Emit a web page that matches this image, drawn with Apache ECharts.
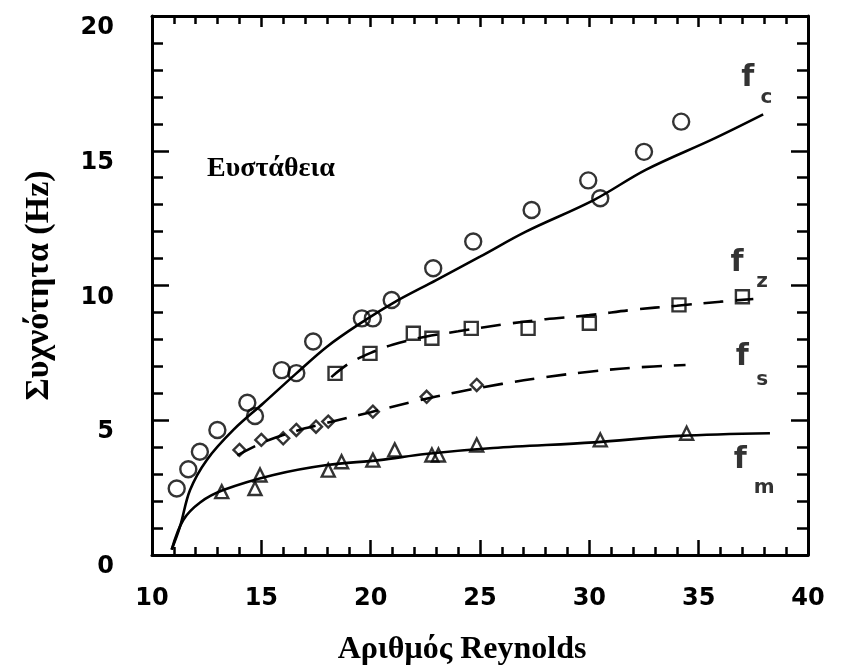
<!DOCTYPE html>
<html><head><meta charset="utf-8">
<script src="https://cdn.jsdelivr.net/npm/echarts/dist/echarts.min.js"></script>
<style>html,body{margin:0;padding:0;background:#fff}#c{width:843px;height:671px}</style>
</head><body><div id="c"></div>
<script>
// Axis ticks
const xTicks = [10, 15, 20, 25, 30, 35, 40];
const yTicks = [0, 5, 10, 15, 20];

// Measured points [Reynolds, Hz]
const fcPoints = [[11.13,2.47],[11.66,3.18],[12.19,3.83],[12.99,4.64],[14.36,5.65],[14.71,5.16],[15.93,6.86],[16.6,6.75],[17.37,7.92],[19.6,8.78],[20.1,8.78],[20.96,9.46],[22.86,10.64],[24.69,11.63],[27.36,12.8],[29.95,13.9],[30.5,13.24],[32.5,14.96],[34.2,16.08]];
const fzPoints = [[18.37,6.74],[19.97,7.48],[21.95,8.23],[22.8,8.04],[24.6,8.41],[27.2,8.41],[30.0,8.6],[34.1,9.28],[37.0,9.58]];
const fsPoints = [[14.0,3.9],[15.0,4.27],[16.0,4.33],[16.6,4.64],[17.5,4.76],[18.06,4.95],[20.1,5.32],[22.56,5.87],[24.85,6.31]];
const fmPoints = [[13.19,2.35],[14.71,2.47],[14.94,2.97],[18.06,3.15],[18.67,3.46],[20.1,3.52],[21.1,3.9],[22.8,3.71],[23.1,3.71],[24.85,4.08],[30.5,4.27],[34.45,4.52]];

// Fitted curves
const fcCurve = [[10.9,0.2],[11.28,1.05],[11.74,2.41],[12.5,3.52],[13.72,4.64],[15.09,5.63],[16.6,6.74],[18.0,7.73],[19.4,8.53],[21.0,9.34],[23.0,10.2],[25.0,11.07],[27.1,12.0],[30.2,13.17],[32.6,14.3],[35.7,15.45],[37.95,16.35]];
const fzCurve = [[18.2,6.6],[19.0,7.1],[20.0,7.5],[21.0,7.8],[22.5,8.1],[24.0,8.3],[26.0,8.55],[28.0,8.75],[30.0,8.9],[32.0,9.1],[34.0,9.25],[36.0,9.4],[37.5,9.5]];
const fsCurve = [[13.9,3.7],[15.0,4.15],[16.0,4.45],[17.0,4.7],[18.0,4.9],[20.0,5.3],[22.0,5.7],[24.0,6.05],[26.0,6.35],[28.0,6.6],[30.0,6.8],[32.0,6.95],[34.4,7.05]];
const fmCurve = [[10.9,0.2],[11.43,1.3],[12.2,1.95],[13.26,2.41],[15.55,2.97],[18.0,3.34],[20.4,3.52],[22.5,3.75],[25.6,3.97],[30.2,4.18],[34.1,4.42],[38.26,4.52]];

// Curve labels (f + subscript), anchored in data units
const curveSubs = ['c', 'z', 's', 'm'];
const labelAnchors = [[37.25,17.7],[36.75,10.83],[37.0,7.35],[36.9,3.5]];
const subAnchors = [[38.1,16.96],[37.9,10.13],[37.9,6.5],[38.0,2.5]];

const BLACK = '#000';
const tickFont = {fontSize: 24, fontWeight: 'bold', fontFamily: 'DejaVu Sans', color: BLACK};
const serif = 'Liberation Serif';

function xAxisCfg(pos, labels) {
  return {
    type: 'value', position: pos, gridIndex: 0,
    min: xTicks[0], max: xTicks[xTicks.length - 1], interval: xTicks[1] - xTicks[0],
    axisLine: {onZero: false, lineStyle: {color: BLACK, width: 3}},
    axisTick: {inside: true, length: pos === 'bottom' ? 15 : 11, lineStyle: {color: BLACK, width: 2.5}},
    minorTick: {show: true, splitNumber: 5, length: 8, lineStyle: {color: BLACK, width: 2.5}},
    splitLine: {show: false}, minorSplitLine: {show: false},
    axisLabel: labels ? Object.assign({margin: 32}, tickFont) : {show: false}
  };
}
function yAxisCfg(pos, labels) {
  return {
    type: 'value', position: pos, gridIndex: 0,
    min: yTicks[0], max: yTicks[yTicks.length - 1], interval: yTicks[1] - yTicks[0],
    axisLine: {onZero: false, lineStyle: {color: BLACK, width: 3}},
    axisTick: {inside: true, length: 17, lineStyle: {color: BLACK, width: 2.5}},
    minorTick: {show: true, splitNumber: 5, length: 11, lineStyle: {color: BLACK, width: 2.5}},
    splitLine: {show: false}, minorSplitLine: {show: false},
    axisLabel: labels ? Object.assign({margin: 38, verticalAlign: 'top'}, tickFont) : {show: false},
    name: labels ? 'Συχνότητα (Hz)' : '', nameLocation: 'middle', nameGap: 96,
    nameTextStyle: {fontFamily: serif, fontWeight: 'bold', fontSize: 34, color: BLACK}
  };
}

function fitLine(data, dashed) {
  return {
    type: 'line', data: data, smooth: 0.35, showSymbol: false, symbol: 'none',
    xAxisIndex: 0, yAxisIndex: 0, z: 2, silent: true,
    lineStyle: {color: BLACK, width: 2.6, type: dashed ? [20, 12] : 'solid'}
  };
}
function markers(data, symbol, size) {
  return {
    type: 'scatter', data: data, symbol: symbol, symbolSize: size,
    xAxisIndex: 0, yAxisIndex: 0, z: 3, silent: true,
    itemStyle: {color: 'rgba(255,255,255,0)', borderColor: BLACK, borderWidth: 2.4}
  };
}

const chart = echarts.init(document.getElementById('c'), null, {renderer: 'canvas'});
chart.setOption({
  animation: false,
  backgroundColor: '#fff',
  grid: {left: 152, right: 35, top: 16, bottom: 116},
  xAxis: [xAxisCfg('bottom', true), xAxisCfg('top', false)],
  yAxis: [yAxisCfg('left', true), yAxisCfg('right', false)],
  graphic: [{
    type: 'text', left: 207, top: 155,
    style: {text: 'Ευστάθεια', fontFamily: serif, fontWeight: 'bold', fontSize: 28, fill: BLACK}
  }, {
    type: 'text', x: 462, y: 650,
    style: {text: 'Αριθμός Reynolds', fontFamily: serif, fontWeight: 'bold', fontSize: 32, fill: BLACK, align: 'center', verticalAlign: 'middle'}
  }],
  series: [
    fitLine(fcCurve, false),
    fitLine(fzCurve, true),
    fitLine(fsCurve, true),
    fitLine(fmCurve, false),
    markers(fcPoints, 'circle', 16),
    markers(fzPoints, 'rect', 13),
    markers(fsPoints, 'diamond', 12),
    markers(fmPoints, 'triangle', 13),
    {
      type: 'scatter', data: labelAnchors, symbolSize: 1, z: 4, silent: true,
      itemStyle: {color: 'rgba(0,0,0,0)'},
      label: {show: true, position: 'inside', formatter: 'f', fontFamily: 'DejaVu Sans', fontWeight: 'bold', fontSize: 30, color: BLACK}
    },
    {
      type: 'scatter', data: subAnchors, symbolSize: 1, z: 4, silent: true,
      itemStyle: {color: 'rgba(0,0,0,0)'},
      label: {show: true, position: 'inside', formatter: p => curveSubs[p.dataIndex], fontFamily: 'DejaVu Sans', fontWeight: 'bold', fontSize: 20, color: BLACK}
    }
  ]
});
</script></body></html>
